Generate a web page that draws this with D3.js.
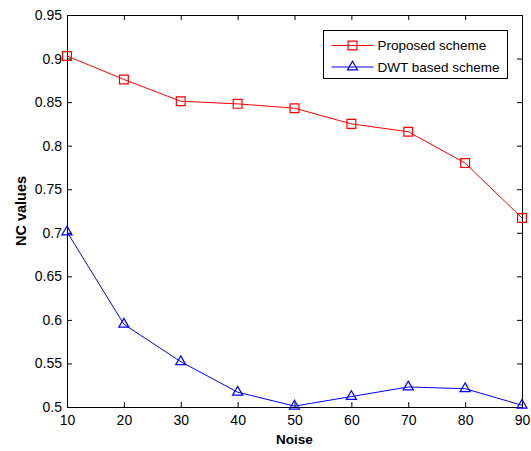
<!DOCTYPE html>
<html>
<head>
<meta charset="utf-8">
<script src="https://cdn.jsdelivr.net/npm/d3@7"></script>
<style>
  body { margin: 0; background: #fff; }
  svg { display: block; font-family: "Liberation Sans", Arial, sans-serif; }
</style>
</head>
<body>
<div id="chart"></div>
<script>
let noise = [10, 20, 30, 40, 50, 60, 70, 80, 90];
let proposed = [0.903, 0.876, 0.851, 0.848, 0.843, 0.825, 0.816, 0.780, 0.717];
let dwt = [0.701, 0.595, 0.552, 0.517, 0.501, 0.512, 0.523, 0.521, 0.502];
let xTicks = [10, 20, 30, 40, 50, 60, 70, 80, 90];
let yTicks = [0.5, 0.55, 0.6, 0.65, 0.7, 0.75, 0.8, 0.85, 0.9, 0.95];
let seriesNames = ["Proposed scheme", "DWT based scheme"];

let width = 531,
  height = 451,
  margin = { top: 15, right: 9, bottom: 44, left: 67 };

let x = d3.scaleLinear()
  .domain([10, 90])
  .range([margin.left, width - margin.right]);

let y = d3.scaleLinear()
  .domain([0.5, 0.95])
  .range([height - margin.bottom, margin.top]);

let svg = d3.select("#chart")
  .append("svg")
  .attr("width", width)
  .attr("height", height);

// axes, ticks pointing inwards on all four sides
let fmt = function(d) { return String(d); };

svg.append("g")
  .attr("transform", "translate(0," + y.range()[0] + ")")
  .call(d3.axisBottom(x).tickValues(xTicks).tickFormat(fmt).tickSizeInner(-5).tickSizeOuter(0).tickPadding(8));
svg.append("g")
  .attr("transform", "translate(0," + y.range()[1] + ")")
  .call(d3.axisTop(x).tickValues(xTicks).tickFormat("").tickSizeInner(-5).tickSizeOuter(0));
svg.append("g")
  .attr("transform", "translate(" + x.range()[0] + ",0)")
  .call(d3.axisLeft(y).tickValues(yTicks).tickFormat(fmt).tickSizeInner(-5).tickSizeOuter(0).tickPadding(5));
svg.append("g")
  .attr("transform", "translate(" + x.range()[1] + ",0)")
  .call(d3.axisRight(y).tickValues(yTicks).tickFormat("").tickSizeInner(-5).tickSizeOuter(0));

svg.selectAll(".tick text")
  .style("font-size", "14px")
  .style("fill", "#000");
svg.selectAll(".domain, .tick line")
  .attr("stroke", "#000");

// box around plot
svg.append("rect")
  .attr("x", x.range()[0] + 0.5)
  .attr("y", y.range()[1] + 0.5)
  .attr("width", x.range()[1] - x.range()[0])
  .attr("height", y.range()[0] - y.range()[1])
  .attr("fill", "none")
  .attr("stroke", "#000");

let line = function(vals) {
  return d3.line()
    .x(function(d, i) { return x(noise[i]); })
    .y(function(d) { return y(d); })(vals);
};

let square = d3.symbol().type(d3.symbolSquare).size(78);
let triangle = d3.symbol().type(d3.symbolTriangle).size(44);

function drawSeries(vals, color, sym) {
  svg.append("path")
    .attr("d", line(vals))
    .attr("fill", "none")
    .attr("stroke", color)
    .attr("stroke-width", 1);
  svg.selectAll(null)
    .data(vals)
    .enter()
    .append("path")
    .attr("d", sym)
    .attr("transform", function(d, i) {
      return "translate(" + x(noise[i]) + "," + y(d) + ")";
    })
    .attr("fill", "none")
    .attr("stroke", color)
    .attr("stroke-width", 1.2);
}

drawSeries(proposed, "#ff0000", square);
drawSeries(dwt, "#0000ff", triangle);

// legend
let legend = svg.append("g").attr("transform", "translate(323.5,30.5)");
legend.append("rect")
  .attr("width", 184)
  .attr("height", 48)
  .attr("fill", "#fff")
  .attr("stroke", "#000");

let legendItems = [
  { name: seriesNames[0], color: "#ff0000", sym: square },
  { name: seriesNames[1], color: "#0000ff", sym: triangle }
];

let li = legend.selectAll("g.item")
  .data(legendItems)
  .enter()
  .append("g")
  .attr("class", "item")
  .attr("transform", function(d, i) { return "translate(0," + (15 + i * 21.5) + ")"; });

li.append("line")
  .attr("x1", 8)
  .attr("x2", 50)
  .attr("stroke", function(d) { return d.color; });
li.append("path")
  .attr("d", function(d) { return d.sym(); })
  .attr("transform", "translate(29,0)")
  .attr("fill", "none")
  .attr("stroke", function(d) { return d.color; })
  .attr("stroke-width", 1.2);
li.append("text")
  .attr("x", 54)
  .attr("dy", "0.35em")
  .style("font-size", "13.5px")
  .text(function(d) { return d.name; });

// axis titles
svg.append("text")
  .attr("x", (x.range()[0] + x.range()[1]) / 2)
  .attr("y", 444)
  .attr("text-anchor", "middle")
  .style("font-size", "13.5px")
  .style("font-weight", "bold")
  .text("Noise");

svg.append("text")
  .attr("transform", "translate(26," + (y.range()[0] + y.range()[1]) / 2 + ") rotate(-90)")
  .attr("text-anchor", "middle")
  .style("font-size", "14.5px")
  .style("font-weight", "bold")
  .text("NC values");
</script>
</body>
</html>
